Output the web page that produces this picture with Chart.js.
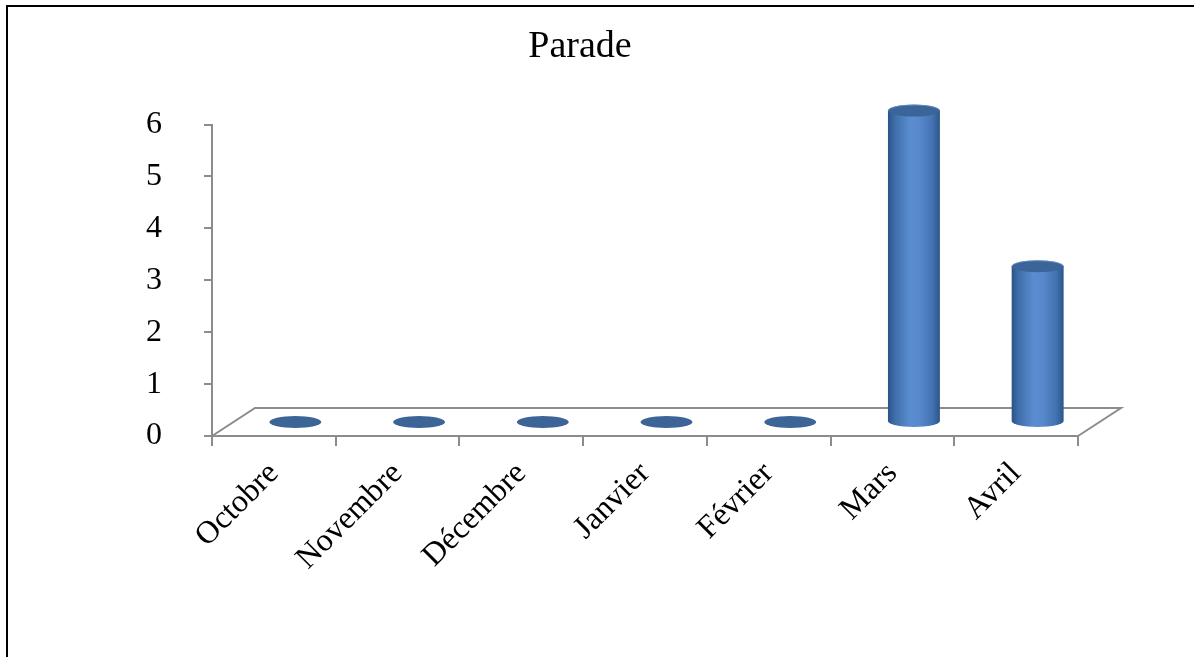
<!DOCTYPE html>
<html>
<head>
<meta charset="utf-8">
<script src="https://cdn.jsdelivr.net/npm/chart.js@4"></script>
<style>
	html, body { margin: 0; padding: 0; background: #fff; }
	#wrap { position: relative; width: 1194px; height: 657px; overflow: hidden; }
	#frame {
		position: absolute; left: 6px; top: 5px; width: 1300px; height: 800px;
		border-left: 2px solid #000; border-top: 2px solid #000;
		pointer-events: none;
	}
</style>
</head>
<body>
<div id="wrap">
	<canvas id="paradeChart" width="1194" height="657"></canvas>
	<div id="frame"></div>
</div>
<script>
// data
const months = ['Octobre', 'Novembre', 'Décembre', 'Janvier', 'Février', 'Mars', 'Avril'];
const parade = [0, 0, 0, 0, 0, 6, 3];
const yTicks = [0, 1, 2, 3, 4, 5, 6];

const AXIS_GREY = '#8c8c8c';
const DEPTH_X = 43;   // floor depth, back edge offset
const DEPTH_Y = -28;

// draws the 3D floor and the cylinders on top of the (invisible) bars
const cylinders = {
	id: 'cylinders',
	beforeDatasetsDraw(chart) {
		const a = chart.chartArea;
		const ctx = chart.ctx;
		ctx.save();
		ctx.strokeStyle = AXIS_GREY;
		ctx.lineWidth = 2;
		ctx.beginPath();
		ctx.moveTo(a.left, a.bottom);
		ctx.lineTo(a.left + DEPTH_X, a.bottom + DEPTH_Y);
		ctx.lineTo(a.right + DEPTH_X, a.bottom + DEPTH_Y);
		ctx.lineTo(a.right, a.bottom);
		ctx.stroke();
		ctx.restore();
	},
	afterDatasetsDraw(chart) {
		const ctx = chart.ctx;
		const meta = chart.getDatasetMeta(0);
		const dx = DEPTH_X / 2, dy = DEPTH_Y / 2;
		const ry = 6;
		ctx.save();
		meta.data.forEach(bar => {
			const cx = bar.x + dx;
			const rx = bar.width / 2;
			const top = bar.y + dy;
			const bottom = bar.base + dy;
			if (bottom - top < 1) {
				ctx.fillStyle = '#3c6497';
				ctx.beginPath();
				ctx.ellipse(cx, bottom, rx, ry, 0, 0, Math.PI * 2);
				ctx.fill();
				return;
			}
			const g = ctx.createLinearGradient(cx - rx, 0, cx + rx, 0);
			g.addColorStop(0, '#2b5384');
			g.addColorStop(0.12, '#3d6ca8');
			g.addColorStop(0.42, '#5a8dd0');
			g.addColorStop(0.6, '#5889cc');
			g.addColorStop(0.85, '#4373b2');
			g.addColorStop(1, '#2c5688');
			ctx.fillStyle = g;
			ctx.beginPath();
			ctx.moveTo(cx - rx, top);
			ctx.lineTo(cx - rx, bottom);
			ctx.ellipse(cx, bottom, rx, ry, 0, Math.PI, 0, true);
			ctx.lineTo(cx + rx, top);
			ctx.closePath();
			ctx.fill();
			// top cap
			ctx.fillStyle = '#3b6499';
			ctx.beginPath();
			ctx.ellipse(cx, top, rx, ry, 0, 0, Math.PI * 2);
			ctx.fill();
			ctx.strokeStyle = 'rgba(120,160,215,0.6)';
			ctx.lineWidth = 1;
			ctx.beginPath();
			ctx.ellipse(cx, top, rx - 0.5, ry - 0.5, 0, Math.PI, Math.PI * 2);
			ctx.stroke();
		});
		ctx.restore();
	}
};

new Chart(document.getElementById('paradeChart'), {
	type: 'bar',
	data: {
		labels: months,
		datasets: [{
			label: 'Parade',
			data: parade,
			backgroundColor: 'rgba(0,0,0,0)',
			borderWidth: 0,
			categoryPercentage: 1,
			barPercentage: 0.42
		}]
	},
	options: {
		responsive: false,
		animation: false,
		layout: { padding: { left: 82, right: 116, top: 0, bottom: 0 } },
		plugins: {
			legend: { display: false },
			tooltip: { enabled: false },
			title: {
				display: true,
				text: 'Parade',
				color: '#000',
				font: { family: 'Liberation Serif', size: 38, weight: 'normal', lineHeight: 1.2 },
				padding: { top: 24, bottom: 55 }
			}
		},
		scales: {
			x: {
				grid: { offset: true, drawOnChartArea: false, tickLength: 10, color: AXIS_GREY, lineWidth: 2 },
				border: { display: true, color: AXIS_GREY, width: 2 },
				ticks: {
					color: '#000',
					font: { family: 'Liberation Serif', size: 32 },
					minRotation: 45,
					maxRotation: 45,
					padding: 9,
					autoSkip: false
				},
				afterFit: s => { s.height = 221; }
			},
			y: {
				min: yTicks[0],
				max: yTicks[yTicks.length - 1],
				grid: { drawOnChartArea: false, tickLength: 8, color: AXIS_GREY, lineWidth: 2 },
				border: { display: true, color: AXIS_GREY, width: 2 },
				ticks: {
					stepSize: 1,
					color: '#000',
					font: { family: 'Liberation Serif', size: 32 },
					padding: 42
				},
				afterFit: s => { s.width = 130; },
				afterBuildTicks: s => { s.ticks = yTicks.map(v => ({ value: v })); }
			}
		}
	},
	plugins: [cylinders]
});
</script>
</body>
</html>
